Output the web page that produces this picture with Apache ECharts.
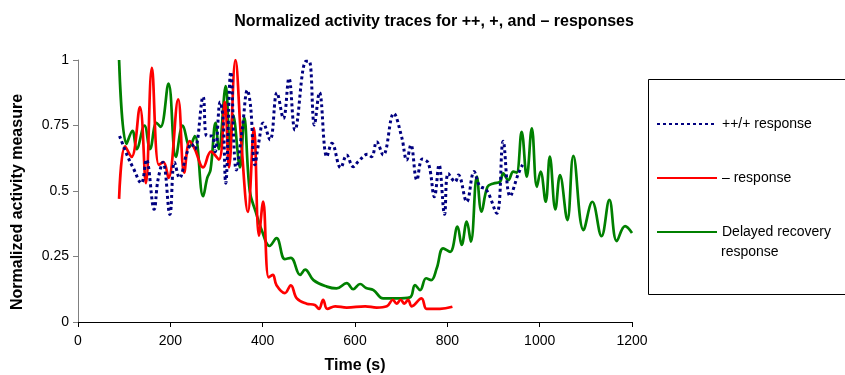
<!DOCTYPE html>
<html>
<head>
<meta charset="utf-8">
<script src="https://cdn.jsdelivr.net/npm/echarts@6/dist/echarts.min.js"></script>
<style>
html,body{margin:0;padding:0;background:#fff;}
#chart{width:845px;height:375px;}
</style>
</head>
<body>
<div id="chart"></div>
<script>
// ---- data ----
const xTicks = [0, 200, 400, 600, 800, 1000, 1200];
const yTicks = [0, 0.25, 0.5, 0.75, 1];

const blueTime = [90,108,119,137,148,165,173,184,199,209,220,235,246,253,271,279,290,297,308,314,320,331,343,356,367,374,383,392,401,416,431,445,457,470,494,501,512,523,539,550,569,582,596,607,627,636,647,661,684,701,712,721,734,746,759,772,782,794,802,817,824,842,858,870,885,907,921,936,954,963];
const blueValue = [0.71,0.63,0.59,0.53,0.62,0.43,0.54,0.61,0.41,0.61,0.55,0.64,0.68,0.66,0.86,0.71,0.71,0.65,0.84,0.78,0.53,0.955,0.58,0.74,0.885,0.82,0.60,0.69,0.76,0.695,0.875,0.777,0.93,0.733,0.995,0.995,0.752,0.876,0.631,0.682,0.589,0.637,0.593,0.612,0.64,0.631,0.688,0.637,0.796,0.707,0.618,0.676,0.542,0.622,0.606,0.478,0.60,0.411,0.567,0.535,0.561,0.459,0.574,0.52,0.504,0.415,0.69,0.48,0.567,0.60];

const redTime = [89,102,116,134,147,160,175,185,196,217,230,242,253,271,288,305,318,327,341,354,368,381,392,401,413,422,430,448,461,474,495,513,522,531,540,557,582,622,647,669,682,690,699,707,715,723,744,755,770,784,811];
const redValue = [0.47,0.67,0.63,0.82,0.53,0.97,0.60,0.61,0.55,0.85,0.57,0.69,0.66,0.59,0.65,0.62,0.84,0.59,1.00,0.68,0.42,0.74,0.33,0.46,0.17,0.18,0.14,0.11,0.14,0.09,0.07,0.065,0.05,0.085,0.05,0.06,0.055,0.06,0.055,0.06,0.085,0.07,0.085,0.07,0.085,0.06,0.09,0.05,0.05,0.05,0.058];

const greenTime = [89,105,118,127,144,156,170,179,196,212,227,242,253,271,280,287,298,305,320,329,336,351,360,372,385,398,415,430,448,461,481,492,510,539,560,582,596,611,624,640,661,690,719,730,741,754,765,777,791,806,822,831,842,851,864,874,887,900,914,921,932,943,950,961,972,983,994,1002,1013,1022,1034,1044,1060,1073,1095,1114,1134,1151,1167,1185,1200];
const greenValue = [1.00,0.68,0.73,0.66,0.75,0.66,0.76,0.745,0.91,0.63,0.75,0.67,0.71,0.48,0.55,0.58,0.76,0.66,0.90,0.66,0.79,0.59,0.78,0.50,0.42,0.35,0.29,0.32,0.24,0.245,0.18,0.20,0.16,0.135,0.128,0.148,0.125,0.145,0.13,0.122,0.09,0.09,0.094,0.141,0.122,0.167,0.16,0.205,0.281,0.268,0.364,0.294,0.383,0.307,0.555,0.421,0.516,0.529,0.535,0.567,0.542,0.574,0.57,0.726,0.555,0.739,0.516,0.574,0.459,0.631,0.43,0.561,0.389,0.634,0.351,0.459,0.328,0.466,0.309,0.366,0.34];

const seriesNames = ['++/+ response', '\u2013 response', 'Delayed recovery response'];

function pairs(t, v) { return t.map((x, i) => [x, v[i]]); }

const FONT = '"Liberation Sans", Arial, Helvetica, sans-serif';
const chart = echarts.init(document.getElementById('chart'), null, {renderer: 'canvas'});

const legendCommon = {
  orient: 'vertical', left: 656, padding: 0, itemWidth: 60, itemHeight: 14, itemGap: 5,
  textStyle: {fontFamily: FONT, fontSize: 14, color: '#000', lineHeight: 20},
  itemStyle: {opacity: 0},
  selectedMode: false
};

chart.setOption({
  animation: false,
  backgroundColor: '#fff',
  title: {
    text: 'Normalized activity traces for ++, +, and \u2013 responses',
    left: 429, top: 9, textAlign: 'center',
    textStyle: {fontFamily: FONT, fontSize: 16, fontWeight: 'bold', color: '#000'}
  },
  grid: {left: 78, right: 213, top: 60, bottom: 53, containLabel: false, outerBoundsMode: 'none'},
  xAxis: {
    type: 'value', min: xTicks[0], max: xTicks[xTicks.length - 1], interval: 200,
    name: 'Time (s)', nameLocation: 'middle', nameGap: 36,
    nameTextStyle: {fontFamily: FONT, fontSize: 16, fontWeight: 'bold', color: '#000'},
    axisLine: {show: true, onZero: false, lineStyle: {color: '#000', width: 1}},
    axisTick: {show: true, inside: false, length: 5, lineStyle: {color: '#000'}},
    axisLabel: {fontFamily: FONT, fontSize: 14, color: '#000', margin: 12,
      formatter: v => String(v)},
    splitLine: {show: false}
  },
  yAxis: {
    type: 'value', min: yTicks[0], max: yTicks[yTicks.length - 1], interval: 0.25,
    name: 'Normalized activity measure', nameLocation: 'middle', nameGap: 52, nameRotate: 90,
    nameTextStyle: {fontFamily: FONT, fontSize: 16, fontWeight: 'bold', color: '#000', padding: [0, 22, 0, 0]},
    axisLine: {show: true, lineStyle: {color: '#808080', width: 1}},
    axisTick: {show: true, inside: false, length: 5, lineStyle: {color: '#808080'}},
    axisLabel: {fontFamily: FONT, fontSize: 14, color: '#000', margin: 9,
      formatter: v => String(v)},
    splitLine: {show: false}
  },
  legend: [
    Object.assign({}, legendCommon, {top: 114, data: [seriesNames[0]]}),
    Object.assign({}, legendCommon, {top: 168, data: [seriesNames[1]]}),
    Object.assign({}, legendCommon, {top: 222, data: [seriesNames[2]],
      formatter: () => 'Delayed recovery'})
  ],
  graphic: [
    {
      type: 'rect', x: 0, y: 0, silent: true,
      shape: {x: 648.5, y: 79.5, width: 300, height: 215},
      style: {fill: 'none', stroke: '#000', lineWidth: 1}
    },
    {
      type: 'text', x: 721, y: 252.5, silent: true,
      style: {text: 'response', fontFamily: FONT, fontSize: 14, fill: '#000', verticalAlign: 'middle', align: 'left'}
    }
  ],
  series: [
    {name: seriesNames[2], type: 'line', data: pairs(greenTime, greenValue), smooth: 0.4,
     symbol: 'none', lineStyle: {color: '#008000', width: 2.7}, itemStyle: {color: '#008000'}},
    {name: seriesNames[1], type: 'line', data: pairs(redTime, redValue), smooth: 0.4,
     symbol: 'none', lineStyle: {color: '#ff0000', width: 2.7}, itemStyle: {color: '#ff0000'}},
    {name: seriesNames[0], type: 'line', data: pairs(blueTime, blueValue), smooth: 0.4,
     symbol: 'none', lineStyle: {color: '#000080', width: 3, type: [3, 3]}, itemStyle: {color: '#000080'}}
  ]
});
</script>
</body>
</html>
